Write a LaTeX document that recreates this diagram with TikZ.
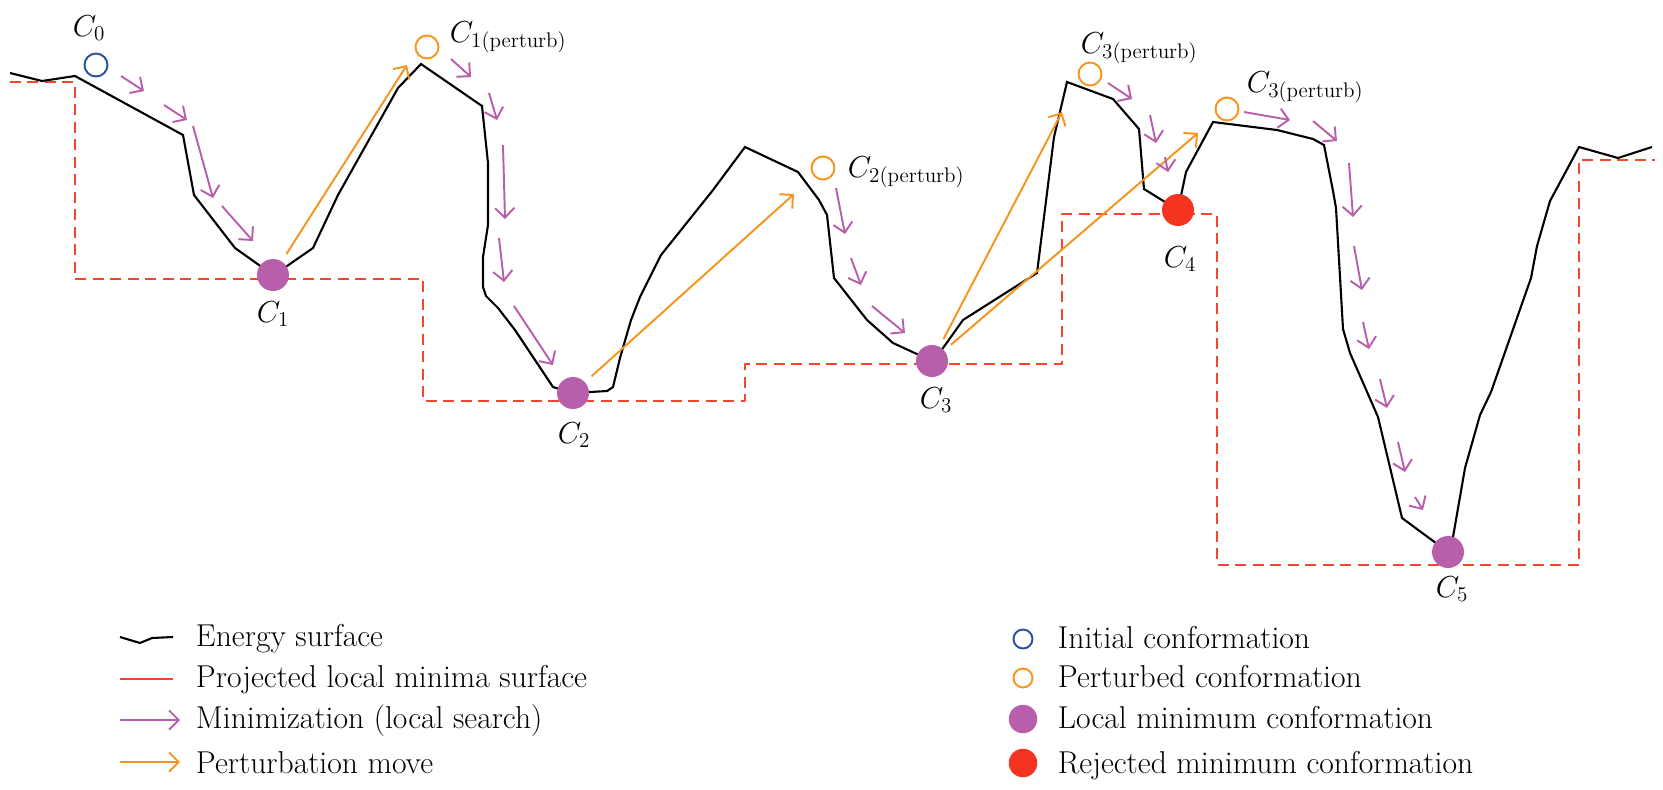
\documentclass[tikz,border=0pt]{standalone}
\usepackage{tikz}
\usetikzlibrary{arrows.meta}
\definecolor{minviolet}{RGB}{184,95,171}
\definecolor{pertorange}{RGB}{247,148,30}
\definecolor{initblue}{RGB}{40,80,165}
\definecolor{rejred}{RGB}{244,51,32}
\definecolor{projred}{RGB}{244,70,45}

\begin{document}
\begin{tikzpicture}[x=0.02cm, y=-0.02cm, line width=1.1pt,
  every node/.style={font=\fontsize{18}{21}\selectfont, inner sep=0pt},
  surface/.style={black, line width=1.2pt},
  projected/.style={projred, line width=1.4pt, dash pattern=on 0.22cm off 0.13cm},
  minim/.style={minviolet, -{Straight Barb[length=5.5pt,width=11pt]}},
  perturb/.style={pertorange, -{Straight Barb[length=5.5pt,width=11pt]}, shorten <=4.5pt},
  locmin/.style={circle, fill=minviolet, minimum size=0.64cm},
  rejmin/.style={circle, fill=rejred, minimum size=0.64cm},
  initc/.style={circle, draw=initblue, line width=1.1pt, minimum size=0.46cm},
  pertc/.style={circle, draw=pertorange, line width=1.1pt, minimum size=0.46cm}]
  \useasboundingbox (0,0) rectangle (1663,789);

  % projected minima (dashed steps)
  \draw[projected, line join=round] (10,82) -- (75,82) -- (75,279) -- (423,279) -- (423,401)
    -- (745,401) -- (745,364) -- (1062,364) -- (1062,214) -- (1217,214) -- (1217,565)
    -- (1579,565) -- (1579,160) -- (1655,160);

  % energy surface
  \draw[surface] (10,73) -- (42,81) -- (75,76) -- (183,135) -- (194,195) -- (235,248)
    -- (273,275) -- (287,266) -- (313,248) -- (338,195) -- (398,88) -- (421,64)
    -- (482,106) -- (488,163) -- (488,225) -- (483,257) -- (483,287) -- (486,296)
    -- (498,308) -- (515,330) -- (553,387) -- (573,393) -- (607,391) -- (613,387)
    -- (620,358) -- (631,320) -- (640,297) -- (661,255) -- (713,190) -- (745,147)
    -- (798,172) -- (819,200) -- (827,215) -- (834,278) -- (867,320) -- (893,343)
    -- (932,361) -- (943,348) -- (963,320) -- (1037,273) -- (1054,137) -- (1067,82)
    -- (1113,99) -- (1139,129) -- (1144,189) -- (1178,210) -- (1186,172) -- (1213,122)
    -- (1277,130) -- (1313,139) -- (1324,145) -- (1333,191) -- (1336,208) -- (1343,329)
    -- (1350,353) -- (1378,417) -- (1402,518) -- (1448,552) -- (1453,537) -- (1465,468)
    -- (1480,415) -- (1491,392) -- (1531,278) -- (1537,246) -- (1550,201) -- (1579,147)
    -- (1618,158) -- (1652,147);

  % conformations
  \node[initc] (c0) at (96,65) {};
  \node[locmin] (c1) at (273,275) {};
  \node[locmin] (c2) at (573,393) {};
  \node[locmin] (c3) at (932,361) {};
  \node[rejmin] (c4) at (1178,210) {};
  \node[locmin] (c5) at (1448,552) {};
  \node[pertc] (c1p) at (427,47) {};
  \node[pertc] (c2p) at (823,168) {};
  \node[pertc] (c3pa) at (1090,74) {};
  \node[pertc] (c3pb) at (1227,109) {};

  \node[anchor=base west] (l0) at (72,36) {$C_0$};
  \node[anchor=base] (l1) at (273,322) {$C_1$};
  \node[anchor=base] (l2) at (574,443) {$C_2$};
  \node[anchor=base] (l3) at (936,408) {$C_3$};
  \node[anchor=base] (l4) at (1180,267) {$C_4$};
  \node[anchor=base] (l5) at (1452,597) {$C_5$};
  \node[anchor=base west] (l1p) at (449,42) {$C_{1(\mathrm{perturb})}$};
  \node[anchor=base west] (l2p) at (847,177) {$C_{2(\mathrm{perturb})}$};
  \node[anchor=base west] (l3pa) at (1080,53) {$C_{3(\mathrm{perturb})}$};
  \node[anchor=base west] (l3pb) at (1246,92) {$C_{3(\mathrm{perturb})}$};

  % perturbation moves
  \coordinate (t1) at (407,65);
  \coordinate (t2) at (794,194);
  \coordinate (t3a) at (1062,112);
  \coordinate (t3b) at (1198,133);
  \draw[perturb] (c1) -- (t1);
  \draw[perturb] (c2) -- (t2);
  \draw[perturb] (c3) -- (t3a);
  \draw[perturb] (c3) -- (t3b);

  % local search steps
  \foreach \xa/\ya/\xb/\yb in {121/76/144/91, 164/105/187/120, 193/126/213/198,
      222/206/253/241, 451/59/471/77, 489/93/497/120, 503/145/505/219, 499/238/504/282,
      514/306/553/365, 836/188/845/234, 851/258/861/285, 872/306/905/333,
      1108/83/1132/99, 1150/115/1156/143, 1165/157/1168/172, 1244/112/1290/120,
      1313/121/1337/141, 1349/163/1353/217, 1354/246/1362/290, 1363/322/1369/349,
      1380/379/1387/408, 1398/442/1405/472, 1415/497/1423/510}
    \draw[minim] (\xa,\ya) -- (\xb,\yb);

  % legend
  \draw[surface] (120,637) -- (140,643) -- (152,638) -- (173,637);
  \draw[projred, line width=1.4pt] (120,679) -- (173,679);
  \draw[minim] (120,720) -- (180,720);
  \draw[pertorange, -{Straight Barb[length=5.5pt,width=11pt]}] (120,762) -- (180,762);
  \node[anchor=base west] (e1) at (195,646) {Energy surface};
  \node[anchor=base west] (e2) at (195,687) {Projected local minima surface};
  \node[anchor=base west] (e3) at (195,728) {Minimization (local search)};
  \node[anchor=base west] (e4) at (195,773) {Perturbation move};

  \node[initc, minimum size=0.38cm] (k1) at (1023,639) {};
  \node[pertc, minimum size=0.38cm] (k2) at (1023,678) {};
  \node[locmin, minimum size=0.57cm] (k3) at (1023,719) {};
  \node[rejmin, minimum size=0.57cm] (k4) at (1023,763) {};
  \node[anchor=base west] (f1) at (1057,648) {Initial conformation};
  \node[anchor=base west] (f2) at (1057,687) {Perturbed conformation};
  \node[anchor=base west] (f3) at (1057,728) {Local minimum conformation};
  \node[anchor=base west] (f4) at (1057,773) {Rejected minimum conformation};
\end{tikzpicture}
\end{document}
